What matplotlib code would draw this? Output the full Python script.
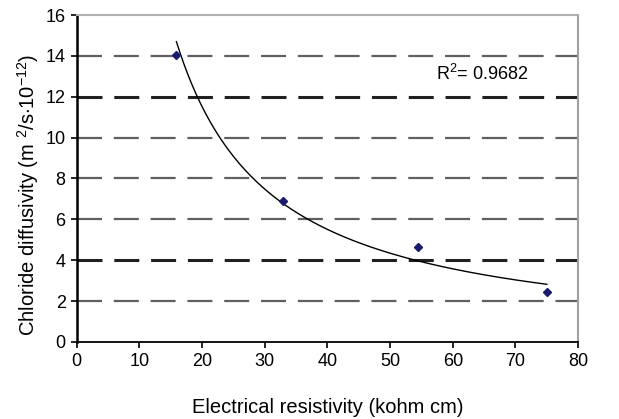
import numpy as np
import matplotlib
matplotlib.use("Agg")
import matplotlib.pyplot as plt

plt.rcParams['font.family'] = ['Liberation Sans', 'DejaVu Sans']
plt.rcParams['mathtext.fontset'] = 'custom'
plt.rcParams['mathtext.rm'] = 'Liberation Sans'
plt.rcParams['mathtext.it'] = 'Liberation Sans'
plt.rcParams['lines.scale_dashes'] = False

# Data
resistivity = [15.9, 32.9, 54.5, 75.0]
diffusivity = [14.07, 6.92, 4.65, 2.46]
r2_text = "R$^2$= 0.9682"
x_ticks = [0, 10, 20, 30, 40, 50, 60, 70, 80]
y_ticks = [0, 2, 4, 6, 8, 10, 12, 14, 16]
grid_levels = [2, 4, 6, 8, 10, 12, 14]
dark_levels = [4, 12]

fig = plt.figure(figsize=(6.19, 4.19), dpi=100)
ax = fig.add_axes([0.124, 0.184, 0.81, 0.78])

# gridlines
for g in grid_levels:
    if g in dark_levels:
        ax.axhline(g, color='#202020', lw=2.2, ls=(0, (18, 8.5)), zorder=1)
    else:
        ax.axhline(g, color='#606060', lw=1.6, ls=(0, (18, 8.5)), zorder=1)

# power trendline
xa = np.array(resistivity)
ya = np.array(diffusivity)
b, lna = np.polyfit(np.log(xa), np.log(ya), 1)
xs = np.linspace(xa.min(), xa.max(), 200)
ax.plot(xs, np.exp(lna) * xs ** b, color='black', lw=1.0, zorder=2)

ax.plot(resistivity, diffusivity, ls='none', marker='D', ms=4,
        color='#1a1a6e', zorder=3)

ax.text(57.3, 13.1, r2_text, fontsize=13, va='center', ha='left')

ax.set_xlim(0, 80)
ax.set_ylim(0, 16)
ax.set_xticks(x_ticks)
ax.set_yticks(y_ticks)
ax.tick_params(labelsize=13, length=4, width=1.2, direction='out', pad=4)

ax.spines['left'].set_linewidth(1.8)
ax.spines['bottom'].set_linewidth(1.3)
ax.spines['top'].set_color('#b0b0b0')
ax.spines['right'].set_color('#a0a0a0')
ax.spines['top'].set_linewidth(1.5)
ax.spines['right'].set_linewidth(1.5)

ax.set_xlabel('Electrical resistivity (kohm cm)', fontsize=14.5, labelpad=20)
ax.set_ylabel('Chloride diffusivity (m $^2$/s$\\cdot$10$^{-12}$)', fontsize=14.5)
ax.yaxis.set_label_coords(-0.072, 0.45)

fig.savefig('out.png', dpi=100)
